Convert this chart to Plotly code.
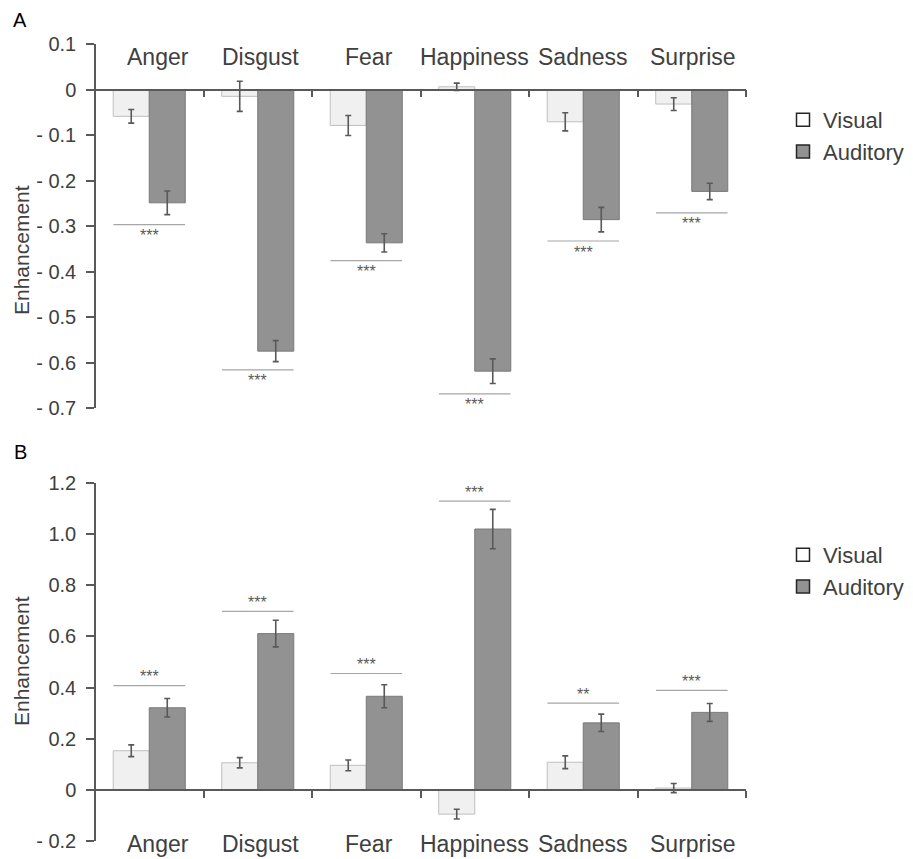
import plotly.graph_objects as go

categories = ["Anger", "Disgust", "Fear", "Happiness", "Sadness", "Surprise"]

# Panel A
visual_A = [-0.059, -0.015, -0.079, 0.006, -0.071, -0.032]
visual_A_err = [0.015, 0.033, 0.022, 0.008, 0.020, 0.014]
auditory_A = [-0.249, -0.575, -0.337, -0.619, -0.286, -0.224]
auditory_A_err = [0.026, 0.023, 0.020, 0.027, 0.027, 0.018]
sig_A = [-0.297, -0.616, -0.376, -0.669, -0.333, -0.271]
stars_A = ["***", "***", "***", "***", "***", "***"]
ticks_A = [0.1, 0, -0.1, -0.2, -0.3, -0.4, -0.5, -0.6, -0.7]
ticktext_A = ["0.1", "0", "- 0.1", "- 0.2", "- 0.3", "- 0.4", "- 0.5", "- 0.6", "- 0.7"]

# Panel B
visual_B = [0.153, 0.106, 0.096, -0.095, 0.108, 0.007]
visual_B_err = [0.023, 0.020, 0.021, 0.019, 0.025, 0.018]
auditory_B = [0.321, 0.611, 0.366, 1.020, 0.262, 0.303]
auditory_B_err = [0.036, 0.052, 0.045, 0.077, 0.034, 0.035]
sig_B = [0.408, 0.698, 0.455, 1.129, 0.339, 0.389]
stars_B = ["***", "***", "***", "***", "**", "***"]
ticks_B = [1.2, 1.0, 0.8, 0.6, 0.4, 0.2, 0, -0.2]
ticktext_B = ["1.2", "1.0", "0.8", "0.6", "0.4", "0.2", "0", "- 0.2"]

# page geometry (the page body adds an 8px margin before the figure)
W, H, OFF = 913, 859, 8


def px(sx):
    return (sx - OFF) / W


def py(sy):
    return 1 - (sy - OFF) / H


idx = list(range(len(categories)))
xdom = [px(95), px(746)]
ydomA = [py(408), py(44)]
ydomB = [py(841), py(483)]
rangeA = [-0.7, 0.1]
rangeB = [-0.2, 1.2]

AX = "#595959"
TXT = "#404040"
VIS_FILL, VIS_LINE = "#f0f0f0", "#bfbfbf"
AUD_FILL, AUD_LINE = "#929292", "#7a7a7a"
FONT = "Liberation Sans, Arial, sans-serif"
label_xshift = [9, 3, 3, 0, 0, 1]


def zero_pos(dom, rng):
    return dom[0] + (0 - rng[0]) / (rng[1] - rng[0]) * (dom[1] - dom[0])


def err(arr):
    return dict(type="data", array=arr, color=AX, thickness=1.6, width=3)


fig = go.Figure()
for xa, ya, vis, vis_e, aud, aud_e, leg in [
    ("x", "y", visual_A, visual_A_err, auditory_A, auditory_A_err, "legend"),
    ("x2", "y2", visual_B, visual_B_err, auditory_B, auditory_B_err, "legend2"),
]:
    fig.add_trace(go.Bar(x=idx, y=vis, error_y=err(vis_e), xaxis=xa, yaxis=ya,
                         marker=dict(color=VIS_FILL, line=dict(color=VIS_LINE, width=1)),
                         showlegend=False, name="Visual"))
    fig.add_trace(go.Bar(x=idx, y=aud, error_y=err(aud_e), xaxis=xa, yaxis=ya,
                         marker=dict(color=AUD_FILL, line=dict(color=AUD_LINE, width=1)),
                         showlegend=False, name="Auditory"))
    # legend entries
    fig.add_trace(go.Scatter(x=[None], y=[None], mode="markers", name="Visual", legend=leg,
                             xaxis=xa, yaxis=ya,
                             marker=dict(symbol="square", size=13, color="white",
                                         line=dict(color="#262626", width=1.5))))
    fig.add_trace(go.Scatter(x=[None], y=[None], mode="markers", name="Auditory", legend=leg,
                             xaxis=xa, yaxis=ya,
                             marker=dict(symbol="square", size=13, color=AUD_FILL,
                                         line=dict(color="#262626", width=1.5))))

xcommon = dict(domain=xdom, range=[-0.5, 5.5], tickvals=[i + 0.5 for i in idx],
               showticklabels=False, ticks="outside", ticklen=7, tickwidth=1.5,
               tickcolor=AX, showline=True, linecolor=AX, linewidth=1.5,
               showgrid=False, zeroline=False, anchor="free", automargin=False,
               fixedrange=True)
ycommon = dict(showline=True, linecolor=AX, linewidth=1.5, ticks="outside", ticklen=8,
               tickwidth=1.5, tickcolor=AX, showgrid=False, zeroline=False,
               tickfont=dict(size=20, color=TXT, family=FONT), ticklabelstandoff=6,
               automargin=False, fixedrange=True)

shapes = []
annotations = []
for xa, ya, sig, stars, shift in [("x", "y", sig_A, stars_A, -11), ("x2", "y2", sig_B, stars_B, 9)]:
    for i, (s, st) in enumerate(zip(sig, stars)):
        shapes.append(dict(type="line", xref=xa, yref=ya, x0=i - 0.33, x1=i + 0.33, y0=s, y1=s,
                           line=dict(color="#a6a6a6", width=1.2)))
        annotations.append(dict(xref=xa, yref=ya, x=i, y=s, text=st, showarrow=False,
                                yshift=shift, yanchor="middle",
                                font=dict(size=16, color=AX, family=FONT)))

# category labels
for i, c in enumerate(categories):
    annotations.append(dict(xref="x", yref="paper", x=i, y=py(57), text=c, showarrow=False,
                            xshift=label_xshift[i], yanchor="middle",
                            font=dict(size=23, color=TXT, family=FONT)))
    annotations.append(dict(xref="x2", yref="paper", x=i, y=py(844), text=c, showarrow=False,
                            xshift=label_xshift[i], yanchor="middle",
                            font=dict(size=23, color=TXT, family=FONT)))

# panel letters and axis titles
common_ann = dict(xref="paper", yref="paper", showarrow=False, xanchor="center", yanchor="middle")
annotations += [
    dict(common_ann, x=px(20), y=py(20), text="A", font=dict(size=20, color="black", family=FONT)),
    dict(common_ann, x=px(20), y=py(452), text="B", font=dict(size=20, color="black", family=FONT)),
    dict(common_ann, x=px(21), y=py(250), text="Enhancement", textangle=-90,
         font=dict(size=21, color=TXT, family=FONT)),
    dict(common_ann, x=px(21), y=py(661), text="Enhancement", textangle=-90,
         font=dict(size=21, color=TXT, family=FONT)),
]

legend_style = dict(font=dict(size=22, color=TXT, family=FONT), bgcolor="rgba(0,0,0,0)",
                    xanchor="left", yanchor="top", tracegroupgap=0, itemwidth=30)

fig.update_layout(
    width=W, height=H,
    margin=dict(l=0, r=0, t=0, b=0, pad=0, autoexpand=False),
    paper_bgcolor="white", plot_bgcolor="white",
    barmode="group", bargap=0.336, bargroupgap=0,
    xaxis=dict(xcommon, position=zero_pos(ydomA, rangeA)),
    yaxis=dict(ycommon, domain=ydomA, range=rangeA, tickvals=ticks_A, ticktext=ticktext_A,
               anchor="free", position=xdom[0]),
    xaxis2=dict(xcommon, position=zero_pos(ydomB, rangeB)),
    yaxis2=dict(ycommon, domain=ydomB, range=rangeB, tickvals=ticks_B, ticktext=ticktext_B,
                anchor="free", position=xdom[0]),
    legend=dict(legend_style, x=px(783), y=py(99)),
    legend2=dict(legend_style, x=px(783), y=py(534)),
    shapes=shapes,
    annotations=annotations,
    font=dict(family=FONT),
)

fig.write_html("out.html")
